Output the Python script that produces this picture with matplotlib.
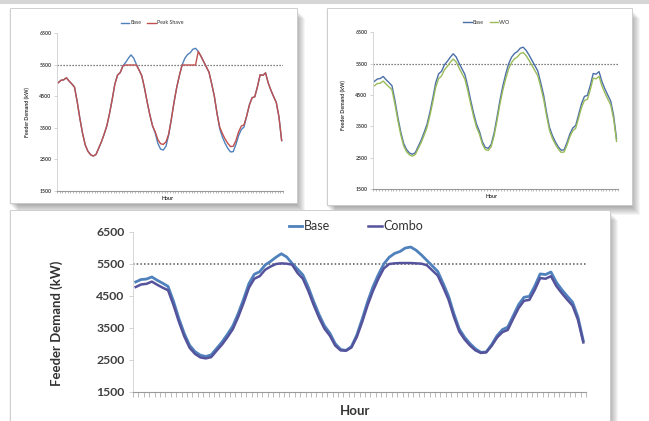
import matplotlib

matplotlib.use("Agg")
import matplotlib.pyplot as plt
from matplotlib.patches import Rectangle
import numpy as np

plt.rcParams["font.family"] = ["Lato", "DejaVu Sans"]

# hourly feeder demand (kW)
base = [4940, 5015, 5030, 5095, 4990, 4900, 4800, 4340, 3800, 3330, 2960, 2760,
        2650, 2610, 2660, 2860, 3060, 3300, 3560, 3950, 4400, 4890, 5180, 5260,
        5470, 5580, 5710, 5820, 5720, 5520, 5340, 5160, 4780, 4330, 3920, 3570,
        3340, 3010, 2830, 2800, 2920, 3280, 3780, 4320, 4790, 5170, 5500, 5710,
        5830, 5890, 6000, 6030, 5930, 5780, 5610, 5440, 5270, 4900, 4500, 3950,
        3470, 3210, 3010, 2850, 2740, 2750, 2980, 3260, 3450, 3530, 3880, 4230,
        4460, 4490, 4810, 5190, 5170, 5250, 4930, 4700, 4500, 4310, 3850, 3100]
peak_shave = [4940, 5015, 5030, 5095, 4990, 4900, 4800, 4340, 3800, 3330, 2960, 2760,
              2650, 2610, 2660, 2860, 3060, 3300, 3560, 3950, 4400, 4890, 5180, 5260,
              5470, 5500, 5500, 5500, 5500, 5500, 5340, 5160, 4780, 4330, 3920, 3570,
              3380, 3130, 3000, 2980, 3060, 3300, 3780, 4320, 4790, 5170, 5500, 5500,
              5500, 5500, 5500, 5500, 5930, 5780, 5610, 5440, 5270, 4900, 4500, 3950,
              3520, 3320, 3150, 3010, 2910, 2920, 3100, 3380, 3560, 3600, 3880, 4230,
              4460, 4490, 4810, 5190, 5170, 5250, 4930, 4700, 4500, 4310, 3850, 3100]
vvo = [4800, 4870, 4880, 4950, 4850, 4760, 4670, 4220, 3700, 3240, 2880, 2690,
       2590, 2550, 2600, 2790, 2980, 3210, 3460, 3840, 4280, 4750, 5030, 5110,
       5310, 5420, 5550, 5650, 5560, 5370, 5190, 5010, 4640, 4210, 3810, 3470,
       3250, 2930, 2760, 2730, 2850, 3190, 3670, 4200, 4650, 5020, 5340, 5540,
       5660, 5720, 5830, 5860, 5760, 5610, 5450, 5280, 5120, 4760, 4370, 3840,
       3380, 3120, 2930, 2780, 2670, 2680, 2900, 3170, 3360, 3440, 3770, 4110,
       4330, 4360, 4670, 5040, 5020, 5100, 4790, 4570, 4370, 4190, 3740, 3020]
combo = [4780, 4860, 4880, 4950, 4850, 4760, 4680, 4220, 3700, 3240, 2880, 2690,
         2580, 2550, 2590, 2790, 2980, 3210, 3460, 3840, 4280, 4760, 5040, 5120,
         5320, 5420, 5500, 5520, 5510, 5480, 5220, 5040, 4660, 4220, 3820, 3480,
         3260, 2950, 2800, 2790, 2890, 3220, 3690, 4210, 4660, 5040, 5360, 5500,
         5520, 5530, 5530, 5530, 5520, 5510, 5460, 5300, 5140, 4780, 4390, 3850,
         3390, 3140, 2950, 2800, 2720, 2740, 2940, 3200, 3370, 3440, 3790, 4120,
         4350, 4380, 4690, 5060, 5040, 5120, 4810, 4590, 4390, 4200, 3760, 3050]
peak_limit = 5500
y_ticks = [1500, 2500, 3500, 4500, 5500, 6500]

W, H = 649, 421
fig = plt.figure(figsize=(W / 100, H / 100), dpi=100)
fig.patch.set_facecolor("white")


def fx(x):
    return x / W


def fy(y):
    return 1 - y / H


def card(x0, y0, x1, y1, z):
    # soft drop shadow, then the white card on top
    for d in range(1, 11):
        fig.patches.append(Rectangle(
            (fx(x0 + d - 2), fy(y1 + d)), fx(x1 - x0), (y1 - y0) / H,
            transform=fig.transFigure, facecolor="black", edgecolor="none",
            alpha=0.04, zorder=z))
    fig.patches.append(Rectangle(
        (fx(x0), fy(y1)), fx(x1 - x0), (y1 - y0) / H,
        transform=fig.transFigure, facecolor="white", edgecolor="#c8c8c8",
        linewidth=0.6, zorder=z + 0.5))


# thin gray band across the top of the slide
fig.patches.append(Rectangle((0, fy(4)), 1, 4 / H, transform=fig.transFigure,
                             facecolor="#d6d6d6", edgecolor="none", zorder=-30))
card(10, 8, 297, 203, -20)
card(327, 8, 632, 205, -20)
card(10, 210, 610, 430, -10)


def panel(box, series, small):
    x0, y_top, x1, y_bot = box
    ax = fig.add_axes([fx(x0), fy(y_bot), fx(x1 - x0), (y_bot - y_top) / H])
    ax.set_facecolor("none")
    n = len(base)
    xs = np.arange(n)
    for values, color, lw, name in series:
        ax.plot(xs, values, color=color, linewidth=lw, solid_joinstyle="round",
                label=name)
    ax.axhline(peak_limit, color="#555555", linewidth=0.9 if small else 1.1,
               linestyle=(0, (1, 1.4)), zorder=0.5)
    ax.set_xlim(-0.5, n - 0.5)
    ax.set_ylim(1500, 6500)
    ax.set_yticks(y_ticks)
    ax.set_xticks(np.arange(-0.5, n, 1))
    ax.set_xticklabels([])
    for side in ("top", "right"):
        ax.spines[side].set_visible(False)
    ax.spines["left"].set_color("#d0d0d0")
    ax.spines["bottom"].set_color("#9a9a9a")
    ax.spines["left"].set_linewidth(0.6)
    ax.spines["bottom"].set_linewidth(0.8)
    fs = 3.8 if small else 8.8
    ax.tick_params(axis="y", length=2 if small else 3, width=0.5, color="#c0c0c0",
                   labelsize=fs, labelcolor="#404040", pad=2 if small else 3)
    ax.tick_params(axis="x", length=1.5 if small else 3.5, width=0.5, color="#a0a0a0")
    for lab in ax.get_yticklabels():
        lab.set_fontweight("bold")
    return ax


tl = panel((57, 33.5, 283, 191),
           [(base, "#4f81bd", 1.0, "Base"), (peak_shave, "#c0504d", 1.0, "Peak Shave")],
           True)
tr = panel((373, 32.5, 618, 189),
           [(base, "#4a6fa8", 1.0, "Base"), (vvo, "#9bbb59", 1.0, "VVO")], True)
bt = panel((133, 232, 586, 392),
           [(base, "#4f81bd", 2.0, "Base"), (combo, "#55539c", 1.8, "Combo")], False)


def labels(ax, hx, hy, yx, yy, size, leg_size, leg_x, leg_y, col_sp, handle_len):
    fig.text(fx(hx), fy(hy), "Hour", ha="center", va="center", fontsize=size,
             fontweight="bold", color="#333333")
    fig.text(fx(yx), fy(yy), "Feeder Demand (kW)", ha="center", va="center",
             rotation=90, fontsize=size, fontweight="bold", color="#333333")
    ax.legend(loc="center", bbox_to_anchor=(fx(leg_x), fy(leg_y)),
              bbox_transform=fig.transFigure, ncol=2, frameon=False,
              fontsize=leg_size, handlelength=handle_len, handletextpad=0.15,
              columnspacing=col_sp, labelcolor="#333333")


labels(tl, 168, 198, 27, 112, 3.8, 3.8, 152, 23, 1.2, 1.6)
labels(tr, 492, 197, 343, 105, 3.8, 3.8, 487, 22, 1.2, 1.6)
labels(bt, 355, 411, 57, 323, 9.5, 9.0, 356, 226, 3.0, 1.1)

fig.savefig("out.png", dpi=100)
